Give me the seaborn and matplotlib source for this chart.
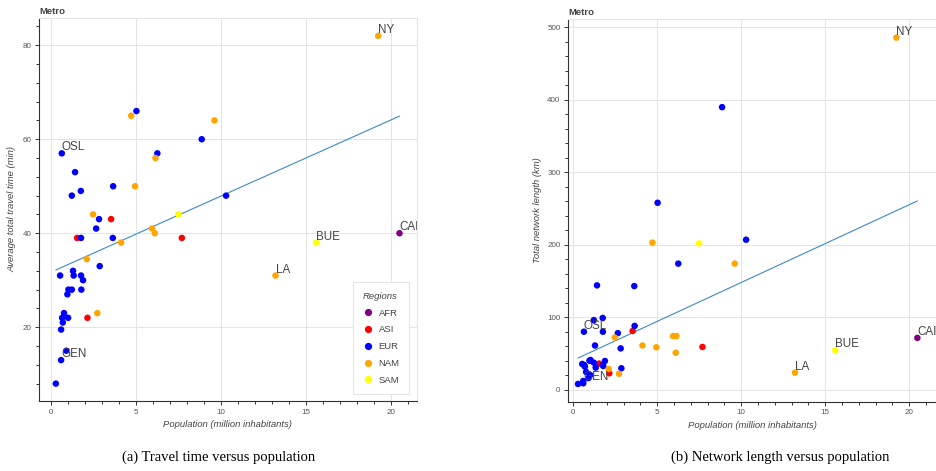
import numpy as np
import pandas as pd
import matplotlib
matplotlib.use("Agg")
import matplotlib.pyplot as plt
import seaborn as sns
from matplotlib.ticker import MultipleLocator
from matplotlib.lines import Line2D

# Metro systems: population (million), travel time (min), network length (km)
population = [0.63, 1.41, 1.22, 1.75, 2.47, 2.82, 2.65, 3.53, 3.65, 4.71,
              5.02, 4.94, 6.25, 6.14, 5.94, 6.10, 7.49, 7.69, 8.86, 9.61,
              10.29, 1.53, 1.76, 3.63, 19.24, 20.49, 15.60, 13.20, 4.12, 2.10,
              2.86, 0.53, 1.29, 1.33, 1.76, 1.88, 1.78, 1.02, 1.22, 0.96,
              0.76, 0.65, 1.00, 0.69, 0.59, 2.14, 2.72, 0.90, 0.59, 0.28]
travel_time = [57, 53, 48, 49, 44, 43, 41, 43, 50, 65,
               66, 50, 57, 56, 41, 40, 44, 39, 60, 64,
               48, 39, 39, 39, 82, 40, 38, 31, 38, 34.5,
               33, 31, 32, 31, 31, 30, 28, 28, 28, 27,
               23, 22, 22, 21, 19.5, 22, 23, 15, 13, 8]
network_length = [80, 144, 96, 99, 72, 57, 78, 81, 88, 203,
                  258, 58.5, 174, 74, 74, 51, 202, 59, 390, 174,
                  207, 36, 80, 143, 486, 71.5, 54.5, 23.5, 61, 28.6,
                  29.5, 35.5, 61, 30.4, 34, 39.6, 32.7, 41, 37.3, 40,
                  24.4, 34, 20.3, 31.8, 12, 22.6, 22, 16, 8.8, 7.9]
region = ["EUR", "EUR", "EUR", "EUR", "NAM", "EUR", "EUR", "ASI", "EUR", "NAM",
          "EUR", "NAM", "EUR", "NAM", "NAM", "NAM", "SAM", "ASI", "EUR", "NAM",
          "EUR", "ASI", "EUR", "EUR", "NAM", "AFR", "SAM", "NAM", "NAM", "NAM",
          "EUR", "EUR", "EUR", "EUR", "EUR", "EUR", "EUR", "EUR", "EUR", "EUR",
          "EUR", "EUR", "EUR", "EUR", "EUR", "ASI", "NAM", "EUR", "EUR", "EUR"]
city_label = ["OSL", "", "", "", "", "", "", "", "", "",
              "", "", "", "", "", "", "", "", "", "",
              "", "", "", "", "NY", "CAI", "BUE", "LA", "", "",
              "", "", "", "", "", "", "", "", "", "",
              "", "", "", "", "", "", "", "", "GEN", ""]

regions = ["AFR", "ASI", "EUR", "NAM", "SAM"]
region_colors = ["#800080", "#ff0000", "#0000ff", "#ffa500", "#ffff00"]
palette = dict(zip(regions, region_colors))

sns.set_theme(style="white")
plt.rcParams["font.family"] = ["Liberation Sans", "DejaVu Sans"]

df = pd.DataFrame({
    "population": population,
    "travel_time": travel_time,
    "network_length": network_length,
    "region": region,
    "label": city_label,
})
df["region"] = pd.Categorical(df["region"], categories=regions, ordered=True)
df_by_region = df.sort_values("region", kind="stable")

W, H = 936, 471
fig = plt.figure(figsize=(W / 100, H / 100), dpi=100)


def frame(l, t, r, b):
    return [l / W, 1 - b / H, (r - l) / W, (b - t) / H]


ax1 = fig.add_axes(frame(39, 18, 416.5, 401))
ax2 = fig.add_axes(frame(568.3, 19, 936, 401.7))

TXT = "#444444"
panels = [
    (ax1, "travel_time", "Average total travel time (min)", (-0.71, 21.49), (4.3, 85.8), 20, 4),
    (ax2, "network_length", "Total network length (km)", (-0.3, 21.6), (-16.6, 511.7), 100, 20),
]

for ax, col, ylabel, xlim, ylim, ymaj, ymin in panels:
    sns.regplot(data=df, x="population", y=col, scatter=False, ci=None, ax=ax,
                line_kws=dict(color="#3a8ac6", lw=0.8, zorder=2))
    sns.scatterplot(data=df_by_region, x="population", y=col, hue="region",
                    hue_order=regions, palette=palette, s=22, linewidth=0,
                    ax=ax, legend=False, zorder=3)
    for x, y, lab in zip(df["population"], df[col], df["label"]):
        if lab:
            ax.text(x, y, lab, fontsize=8.4, color=TXT, ha="left", va="bottom",
                    clip_on=True, zorder=4)

    ax.set_xlim(*xlim)
    ax.set_ylim(*ylim)
    ax.xaxis.set_major_locator(MultipleLocator(5))
    ax.xaxis.set_minor_locator(MultipleLocator(1))
    ax.yaxis.set_major_locator(MultipleLocator(ymaj))
    ax.yaxis.set_minor_locator(MultipleLocator(ymin))

    ax.grid(True, which="major", color="#e5e5e5", lw=0.75)
    ax.set_axisbelow(True)
    for side in ("top", "right"):
        ax.spines[side].set_color("#e5e5e5")
        ax.spines[side].set_linewidth(0.75)
    for side in ("left", "bottom"):
        ax.spines[side].set_color("#333333")
        ax.spines[side].set_linewidth(0.8)

    ax.tick_params(which="both", bottom=True, left=True, top=False, right=False,
                   direction="out", color="#333333", width=0.7)
    ax.tick_params(which="major", length=3.1, labelsize=5.8, labelcolor="#555555", pad=2.5)
    ax.tick_params(which="minor", length=2.1)

    ax.set_xlabel("Population (million inhabitants)", fontsize=6.8, style="italic",
                  color=TXT, labelpad=3)
    ax.set_ylabel(ylabel, fontsize=6.8, style="italic", color=TXT, labelpad=4)
    ax.set_title("Metro", loc="left", fontsize=6.8, fontweight="bold", color=TXT, pad=3)

handles = [Line2D([], [], marker="o", ls="", color=c, markersize=5.2, markeredgewidth=0)
           for c in region_colors]
leg = ax1.legend(handles, regions, title="Regions", loc="lower right",
                 bbox_to_anchor=(1 - 7.4 / 377.5, 7 / 383), borderaxespad=0,
                 frameon=True, fancybox=False, edgecolor="#e5e5e5", framealpha=1,
                 fontsize=6.8, title_fontsize=6.8, labelspacing=0.82,
                 handletextpad=0.5, handlelength=1.2, borderpad=1.0,
                 alignment="left")
leg.get_frame().set_linewidth(0.75)
leg.get_title().set_style("italic")
leg.get_title().set_color(TXT)
for t in leg.get_texts():
    t.set_color(TXT)

fig.text(219 / W, 1 - 457 / H, "(a) Travel time versus population", ha="center",
         va="center", family="Liberation Serif", fontsize=10.5, color="black")
fig.text(780 / W, 1 - 457 / H, "(b) Network length versus population", ha="center",
         va="center", family="Liberation Serif", fontsize=10.5, color="black")

fig.savefig("out.png", dpi=100)
